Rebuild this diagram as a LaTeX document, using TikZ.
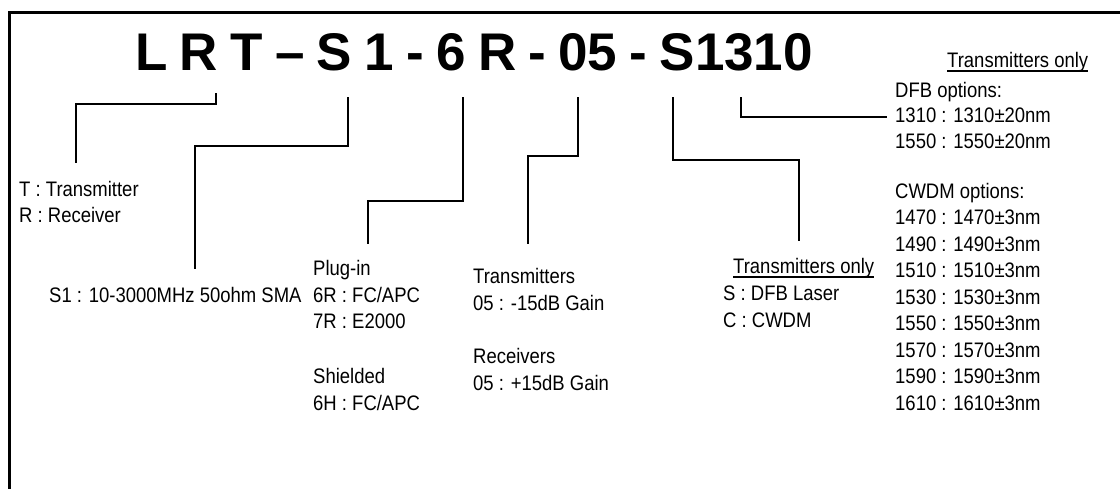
\documentclass[tikz,border=0pt]{standalone}
\usepackage{fontspec}
\setmainfont{Liberation Sans}[FakeStretch=0.88]
\newfontfamily\titlefont{Liberation Sans}
\usetikzlibrary{calc}
\begin{document}
\begin{tikzpicture}[x=1pt,y=-1pt,
  txt/.style={anchor=base west,inner sep=0pt,font=\fontsize{21}{26}\selectfont},
  conn/.style={line width=1.4pt},
  frame/.style={line width=2.4pt},
  uline/.style={line width=1.5pt}]
\useasboundingbox (0,0) rectangle (1120,488);
\draw[frame] (9.5,490) -- (9.5,12.5) -- (1122,12.5);
\node[anchor=base west,inner sep=0pt,font=\titlefont\bfseries\fontsize{53}{60}\selectfont] (title) at (135,70) {\spaceskip=12.3pt L R T – S 1 - 6 R - 05 - S1310};

\node[txt] (tT) at (19,196) {T : Transmitter};
\node[txt] (tR) at (19,222) {R : Receiver};
\node[txt] (s1) at (49,302) {S1 : 10-3000MHz 50ohm SMA};
\node[txt] (plug) at (313,275) {Plug-in};
\node[txt] (p6R) at (313,302) {6R : FC/APC};
\node[txt] (p7R) at (313,328) {7R : E2000};
\node[txt] (shl) at (313,383) {Shielded};
\node[txt] (s6H) at (313,410) {6H : FC/APC};
\node[txt] (gT) at (473,283) {Transmitters};
\node[txt] (gT05) at (473,310) {05 : -15dB Gain};
\node[txt] (gR) at (473,363) {Receivers};
\node[txt] (gR05) at (473,390) {05 : +15dB Gain};
\node[txt] (lto) at (733,273) {Transmitters only};
\node[txt] (lS) at (723,300) {S : DFB Laser};
\node[txt] (lC) at (723,327) {C : CWDM};
\node[txt] (wto) at (947,67) {Transmitters only};
\node[txt] (dfb) at (895,97) {DFB options:};
\node[txt] (d1310) at (895,122) {1310 : 1310±20nm};
\node[txt] (d1550) at (895,148) {1550 : 1550±20nm};
\node[txt] (cw) at (895,198) {CWDM options:};
\foreach \w [count=\i] in {1470,1490,1510,1530,1550,1570,1590,1610}
  \node[txt] (cw\i) at (895,{198+26.5*\i}) {\w{} : \w±3nm};

\draw[uline] ($(lto.base west)+(0,4)$) -- ($(lto.base east)+(0,4)$);
\draw[uline] ($(wto.base west)+(0,4)$) -- ($(wto.base east)+(0,4)$);

\coordinate (pR) at (216,93); \coordinate (eR) at (76,163);
\draw[conn] (pR) -- ++(0,11) -| (eR);
\coordinate (pS) at (348,97); \coordinate (eS) at (195,269);
\draw[conn] (pS) -- ++(0,49) -| (eS);
\coordinate (p6) at (463,97); \coordinate (e6) at (368,244);
\draw[conn] (p6) -- ++(0,104) -| (e6);
\coordinate (p05) at (578,97); \coordinate (e05) at (528,244);
\draw[conn] (p05) -- ++(0,59) -| (e05);
\coordinate (pD) at (673,97); \coordinate (eD) at (799,241);
\draw[conn] (pD) -- ++(0,63) -| (eD);
\coordinate (pL) at (741,97); \coordinate (eL) at (887,117);
\draw[conn] (pL) |- (eL);
\end{tikzpicture}
\end{document}
